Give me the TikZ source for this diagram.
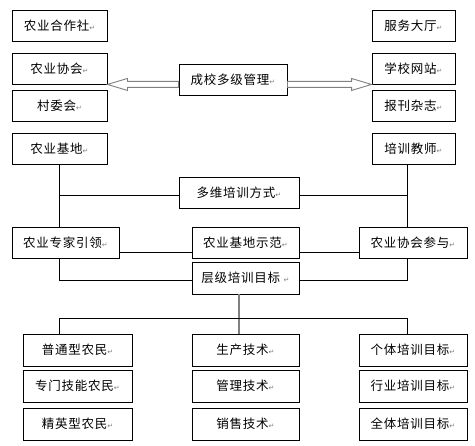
\documentclass[tikz,border=0pt]{standalone}
\usepackage{fontspec}
\newfontfamily\cjk[LetterSpace=6]{Noto Sans CJK SC}
\newfontfamily\dejavu{DejaVu Sans}
\newcommand{\retmark}{{\dejavu\fontsize{7}{8}\selectfont\textcolor{gray}{↵}}}
\tikzset{
	box/.style={draw, line width=0.9pt, minimum height=31pt, inner sep=0pt, font=\cjk\fontsize{12.5}{14}\selectfont},
	fatarrow/.style={draw=gray, fill=white, line width=0.9pt, line join=miter},
}
\begin{document}
\begin{tikzpicture}[x=1pt, y=-1pt, line width=0.9pt]
	\useasboundingbox (0,0) rectangle (475,446);
	\node[box, minimum width=95pt] (coop) at (59.5,25.5) {农业合作社\retmark};
	\node[box, minimum width=95pt] (assoc) at (59.5,68.5) {农业协会\retmark};
	\node[box, minimum width=95pt] (village) at (59.5,105.5) {村委会\retmark};
	\node[box, minimum width=95pt] (base) at (59.5,148.5) {农业基地\retmark};
	\node[box, minimum width=83pt] (hall) at (413.5,25.5) {服务大厅\retmark};
	\node[box, minimum width=83pt] (web) at (413.5,68.5) {学校网站\retmark};
	\node[box, minimum width=83pt] (press) at (413.5,105.5) {报刊杂志\retmark};
	\node[box, minimum width=83pt] (teacher) at (413.5,148.5) {培训教师\retmark};
	\node[box, minimum width=108pt] (mgmt) at (233,79.5) {成校多级管理\retmark};
	\node[box, minimum width=120pt] (modes) at (239,192.5) {多维培训方式\retmark};
	\node[box, minimum width=107pt] (expert) at (65.5,242.5) {农业专家引领\retmark};
	\node[box, minimum width=107pt] (demo) at (245.5,242.5) {农业基地示范\retmark};
	\node[box, minimum width=108pt] (join) at (413,242.5) {农业协会参与\retmark};
	\node[box, minimum width=107pt, minimum height=32pt] (goal) at (245.5,278) {层级培训目标\ \retmark};
	\node[box, minimum width=109pt, minimum height=32pt] (f1) at (77.5,350) {普通型农民\retmark};
	\node[box, minimum width=109pt, minimum height=32pt] (f2) at (77.5,386) {专门技能农民\retmark};
	\node[box, minimum width=109pt, minimum height=32pt] (f3) at (77.5,424) {精英型农民\retmark};
	\node[box, minimum width=107pt, minimum height=32pt] (t1) at (245.5,350) {生产技术\retmark};
	\node[box, minimum width=107pt, minimum height=32pt] (t2) at (245.5,386) {管理技术\retmark};
	\node[box, minimum width=107pt, minimum height=32pt] (t3) at (245.5,424) {销售技术\retmark};
	\node[box, minimum width=108pt, minimum height=32pt] (g1) at (413,350) {个体培训目标\retmark};
	\node[box, minimum width=108pt, minimum height=32pt] (g2) at (413,386) {行业培训目标\retmark};
	\node[box, minimum width=108pt, minimum height=32pt] (g3) at (413,424) {全体培训目标\retmark};
	\coordinate (rx) at (407,0);
	\coordinate (bus) at (0,318);
	\draw (base.south) -- (base.south |- expert.north);
	\draw ([yshift=-2.5pt]modes.west) -- ([yshift=-2.5pt]modes.west -| base.south);
	\draw (teacher.south -| rx) -- (join.north -| rx);
	\draw ([yshift=-2.5pt]modes.east) -- ([yshift=-2.5pt]modes.east -| rx);
	\draw ([yshift=-10pt]expert.east) -- ([yshift=-10pt]demo.west);
	\draw ([yshift=-10pt]demo.east) -- ([yshift=-10pt]join.west);
	\draw (expert.south -| base.south) |- ([yshift=-2pt]goal.west);
	\draw (join.south -| rx) |- ([yshift=-2pt]goal.east);
	\draw[gray, line width=1.4pt] ([xshift=-6.5pt]goal.south) -- ([xshift=-6.5pt]t1.north);
	\draw (base.south |- f1.north) -- (base.south |- bus) -- (rx |- bus) -- (rx |- g1.north);
	\coordinate (hl) at ([xshift=20pt]assoc.south east);
	\coordinate (tl) at ([yshift=3pt]assoc.south east);
	\coordinate (bl) at ([yshift=-3pt]assoc.south east);
	\draw[fatarrow] (assoc.south east) -- ([yshift=6pt]hl) -- (tl -| hl) -- (tl -| mgmt.west) -- (bl -| mgmt.west) -- (bl -| hl) -- ([yshift=-6pt]hl) -- cycle;
	\coordinate (hr) at ([xshift=-20pt]web.south west);
	\coordinate (tr) at ([yshift=3pt]web.south west);
	\coordinate (br) at ([yshift=-3pt]web.south west);
	\draw[fatarrow] (web.south west) -- ([yshift=6pt]hr) -- (tr -| hr) -- (tr -| mgmt.east) -- (br -| mgmt.east) -- (br -| hr) -- ([yshift=-6pt]hr) -- cycle;
\end{tikzpicture}
\end{document}
